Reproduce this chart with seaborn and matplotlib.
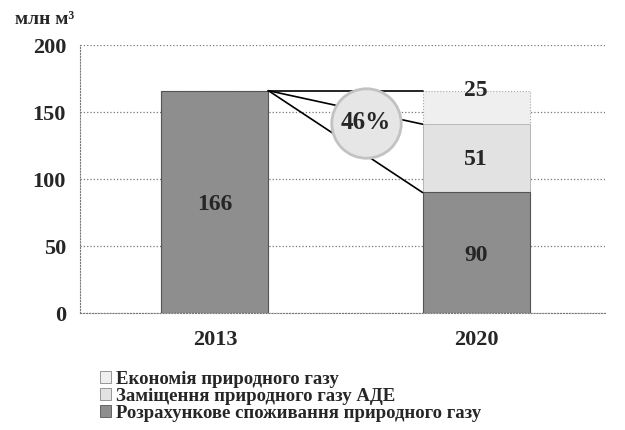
import pandas as pd
import numpy as np
import seaborn as sns
import matplotlib.pyplot as plt
from matplotlib.patches import Patch

years = ['2013', '2020']
base = [166, 90]          # Розрахункове споживання
substitution = [0, 51]    # Заміщення природного газу АДЕ
economy = [0, 25]         # Економія природного газу
yticks = [0, 50, 100, 150, 200]
share_label = '46%'
unit_label = 'млн м³'
legend_labels = ['Економія природного газу', 'Заміщення природного газу АДЕ',
                 'Розрахункове споживання природного газу']

df = pd.DataFrame({'year': years, 'base': base, 'sub': substitution, 'eco': economy})
df['lvl2'] = df['base'] + df['sub']
df['lvl3'] = df['lvl2'] + df['eco']

sns.set_style('white')
plt.rcParams['font.family'] = ['Liberation Serif', 'DejaVu Serif']
plt.rcParams['font.weight'] = 'bold'

c_base = '#8e8e8e'
c_sub = '#e2e2e2'
c_eco = '#efefef'
w = 0.41

fig = plt.figure(figsize=(6.25, 4.3), dpi=100)
ax = fig.add_axes([0.128, 0.272, 0.84, 0.623])

sns.barplot(data=df, x='year', y='lvl3', color=c_eco, width=w, ax=ax,
            edgecolor='#a8a8a8', linewidth=0.8, linestyle=':', saturation=1, zorder=2)
sns.barplot(data=df, x='year', y='lvl2', color=c_sub, width=w, ax=ax,
            edgecolor='#b0b0b0', linewidth=0.6, saturation=1, zorder=2)
sns.barplot(data=df, x='year', y='base', color=c_base, width=w, ax=ax,
            edgecolor='#555555', linewidth=0.8, saturation=1, zorder=2)

# value labels
for i in range(len(years)):
    ax.text(i, df['base'][i] / 2 - 2, str(df['base'][i]), ha='center', va='center',
            fontsize=17, fontweight='bold', zorder=5)
    if df['sub'][i] > 0:
        ax.text(i, df['base'][i] + df['sub'][i] / 2 - 1, str(df['sub'][i]), ha='center',
                va='center', fontsize=17, fontweight='bold', zorder=5)
    if df['eco'][i] > 0:
        ax.text(i, df['lvl3'][i], str(df['eco'][i]), ha='center',
                va='center', fontsize=17, fontweight='bold', zorder=5)

# connector lines from 2013 top to 2020 levels
x0 = 0 + w / 2
x1 = 1 - w / 2
for lvl in [df['lvl3'][1], df['lvl2'][1], df['base'][1]]:
    ax.plot([x0, x1], [df['lvl3'][0], lvl], color='black', lw=1.2, zorder=3)

ax.scatter([0.578], [142], s=2500, facecolor='#e6e6e6', edgecolor='#c2c2c2',
           linewidth=2, zorder=4)
ax.text(0.578, 142, share_label, ha='center', va='center', fontsize=18,
        fontweight='bold', zorder=5)

ax.set_xlim(-0.517, 1.494)
ax.set_ylim(0, 200)
ax.set_yticks(yticks)
ax.set_xlabel('')
ax.set_ylabel('')
ax.yaxis.grid(True, linestyle=':', color='#777777', linewidth=0.9, zorder=0)
ax.set_axisbelow(True)
for s in ['top', 'right']:
    ax.spines[s].set_visible(False)
for s in ['left', 'bottom']:
    ax.spines[s].set_linestyle(':')
    ax.spines[s].set_color('#777777')
ax.tick_params(axis='y', length=4, color='#777777', labelsize=16, pad=6)
ax.tick_params(axis='x', length=0, labelsize=16, pad=12)
for lab in ax.get_xticklabels() + ax.get_yticklabels():
    lab.set_fontweight('bold')

fig.text(15 / 625, 1 - 20 / 430, unit_label, fontsize=14, fontweight='bold', va='center')

handles = [Patch(facecolor=c_eco, edgecolor='#888888', linewidth=0.6),
           Patch(facecolor=c_sub, edgecolor='#888888', linewidth=0.6),
           Patch(facecolor=c_base, edgecolor='#555555', linewidth=0.6)]
fig.legend(handles, legend_labels, loc='upper left', bbox_to_anchor=(100 / 625, 1 - 371 / 430),
           frameon=False, handlelength=0.6, handleheight=0.6, handletextpad=0.25,
           labelspacing=0.0, borderaxespad=0, borderpad=0,
           prop={'family': 'Liberation Serif', 'weight': 'bold', 'size': 13.5})

fig.savefig('out.png', dpi=100)
